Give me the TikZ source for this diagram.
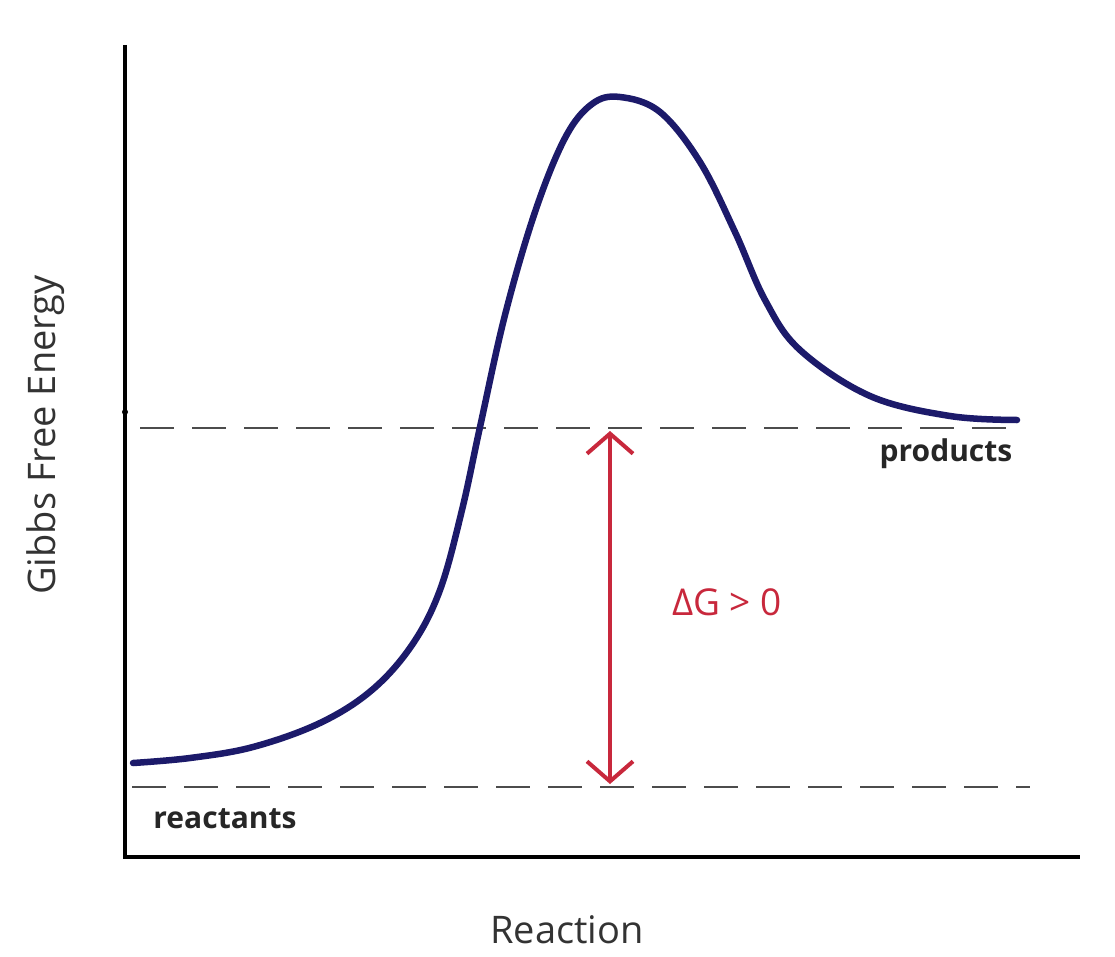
\documentclass[tikz,border=0pt]{standalone}
\usepackage{fontspec}
\setmainfont{Open Sans}
\usetikzlibrary{arrows.meta}
\definecolor{curveblue}{HTML}{1C1A6A}
\definecolor{dgred}{HTML}{C8283C}
\begin{document}
\begin{tikzpicture}[x=1pt,y=-1pt,
  axis/.style={line width=3.5pt,black},
  level/.style={line width=2pt,black!70,dash pattern=on 34pt off 18pt},
  lbl/.style={font=\fontsize{30}{34}\selectfont\bfseries,text=black!85},
  big/.style={font=\fontsize{38}{42}\selectfont,text=black!80}]
\useasboundingbox (0,0) rectangle (1115,957);
\fill[white] (0,0) rectangle (1115,957);
% axes
\coordinate (origin) at (125,857);
\coordinate (ytop) at (125,45);
\coordinate (xend) at (1080,857);
\draw[axis] (ytop) -- (origin) -- (xend);
\fill (125,412) circle (3pt);
% level lines
\coordinate (pl) at (140,428);
\coordinate (pr) at (1022,428);
\coordinate (rl) at (132,787);
\coordinate (rr) at (1030,787);
\draw[level] (pl) -- (pr);
\draw[level] (rl) -- (rr);
% energy curve
\draw[curveblue,line width=6.5pt,line cap=round] plot[smooth,tension=0.6] coordinates
 {(133,763) (190,758) (253,747) (320,723) (372,690) (412,645) (440,590)
  (462,510) (480,427) (505,315) (535,212) (565,138) (592,104) (620,97)
  (660,112) (700,162) (735,232) (765,300) (800,350) (870,396)
  (950,416) (1017,420)};
% delta G arrow
\coordinate (atop) at (610,431);
\coordinate (abot) at (610,784);
\draw[dgred,line width=4pt,{Straight Barb[length=20pt,width=46pt,line width=4pt]}-{Straight Barb[length=20pt,width=46pt,line width=4pt]}] (atop) -- (abot);
\node[font=\fontsize{37}{42}\selectfont,text=dgred] (dg) at (727,602) {ΔG > 0};
% labels
\node[lbl] (prod) at (946,454) {products};
\node[lbl] (reac) at (225,819) {reactants};
\node[big,rotate=90] (ylab) at (46,435) {Gibbs Free Energy};
\node[big] (xlab) at (567,930) {Reaction};
\end{tikzpicture}
\end{document}
